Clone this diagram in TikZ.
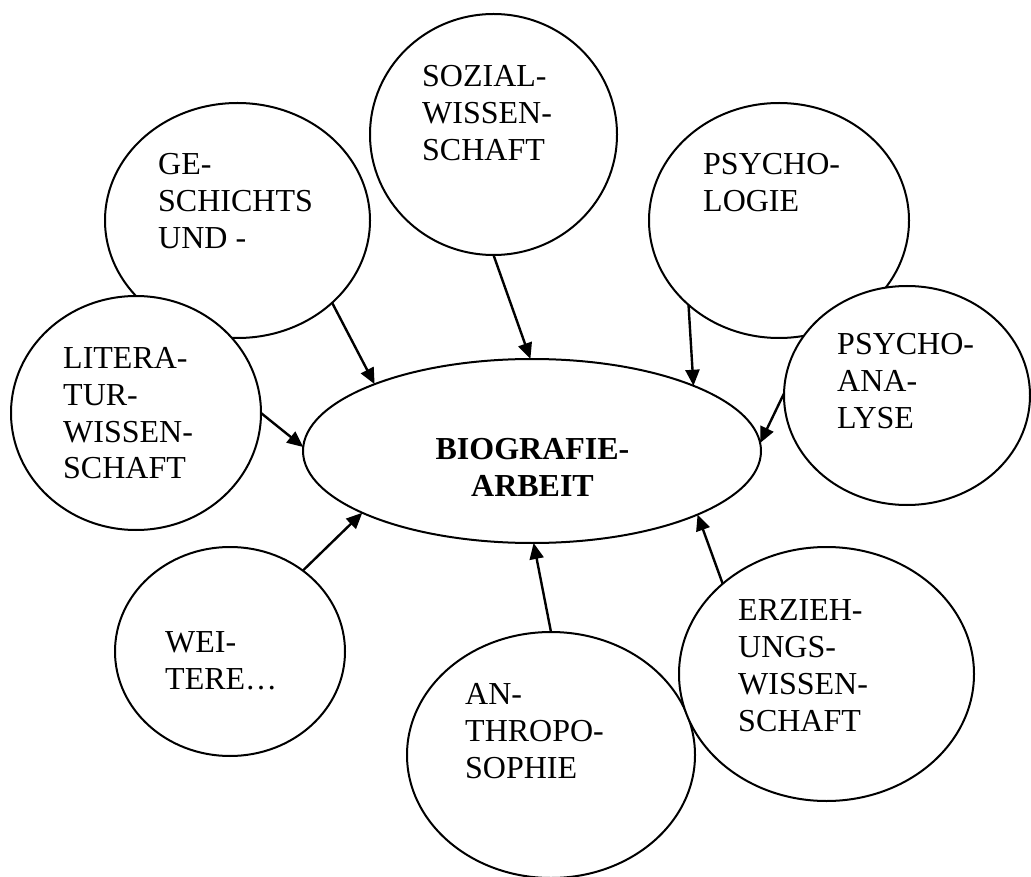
\documentclass[tikz,border=0pt]{standalone}
\usepackage{fontspec}
\setmainfont{Liberation Serif}
\usetikzlibrary{shapes.geometric,arrows.meta}
\newcommand\stackL[1]{\begin{tabular}[t]{@{}l@{}}#1\end{tabular}}
\newcommand\stackC[1]{\begin{tabular}[t]{@{}c@{}}#1\end{tabular}}
\begin{document}
\begin{tikzpicture}[x=1pt,y=-1pt,
  blob/.style={ellipse,draw,line width=2pt,fill=white,inner sep=0pt,outer sep=0pt},
  lbl/.style={inner sep=0pt,anchor=base west,font=\fontsize{32}{37}\selectfont},
  arr/.style={line width=2.4pt,-{Triangle[length=16pt,width=14pt]}}]
\useasboundingbox (0,0) rectangle (1031,877);
% ellipses
\node[blob,minimum width=265pt,minimum height=235pt] (ge)   at (237.5,220.5) {};
\node[blob,minimum width=247pt,minimum height=241pt] (soz)  at (493.5,134.5) {};
\node[blob,minimum width=260pt,minimum height=235pt] (psy)  at (779,220.5) {};
\node[blob,minimum width=250pt,minimum height=234pt] (lit)  at (136,413) {};
\node[blob,minimum width=246pt,minimum height=219pt] (pana) at (907,395.5) {};
\node[blob,minimum width=458pt,minimum height=184pt] (bio)  at (532,451) {};
\node[blob,minimum width=230pt,minimum height=209pt] (wei)  at (230,651.5) {};
\node[blob,minimum width=288pt,minimum height=246pt] (anth) at (551,755) {};
\node[blob,minimum width=295pt,minimum height=254pt] (erz)  at (826.5,674) {};
% labels
\node[lbl] (geT)   at (158,175) {\stackL{GE-\\SCHICHTS\\UND -}};
\node[lbl] (sozT)  at (422,87)  {\stackL{SOZIAL-\\WISSEN-\\SCHAFT}};
\node[lbl] (psyT)  at (703,175) {\stackL{PSYCHO-\\LOGIE}};
\node[lbl] (litT)  at (63,368)  {\stackL{LITERA-\\TUR-\\WISSEN-\\SCHAFT}};
\node[lbl] (panaT) at (837,355) {\stackL{PSYCHO-\\ANA-\\LYSE}};
\node[lbl] (weiT)  at (165,652) {\stackL{WEI-\\TERE…}};
\node[lbl] (anthT) at (465,704) {\stackL{AN-\\THROPO-\\SOPHIE}};
\node[lbl] (erzT)  at (738,620) {\stackL{ERZIEH-\\UNGS-\\WISSEN-\\SCHAFT}};
\node[inner sep=0pt,anchor=base,font=\bfseries\fontsize{32}{37}\selectfont] (bioT) at (532.5,459) {\stackC{BIOGRAFIE-\\ARBEIT}};
% arrows
\draw[arr] (ge.-41.5) -- (bio.157.2);
\draw[arr] (soz.-90) -- (bio.91);
\draw[arr] (psy.-137.8) -- (bio.22.2);
\draw[arr] (pana.179) -- (bio.2);
\draw[arr] (lit.0) -- (bio.179);
\draw[arr] (wei.48.5) -- (bio.200);
\draw[arr] (anth.90) -- (bio.-89);
\draw[arr] (erz.139.3) -- (bio.-21.9);
\end{tikzpicture}
\end{document}
